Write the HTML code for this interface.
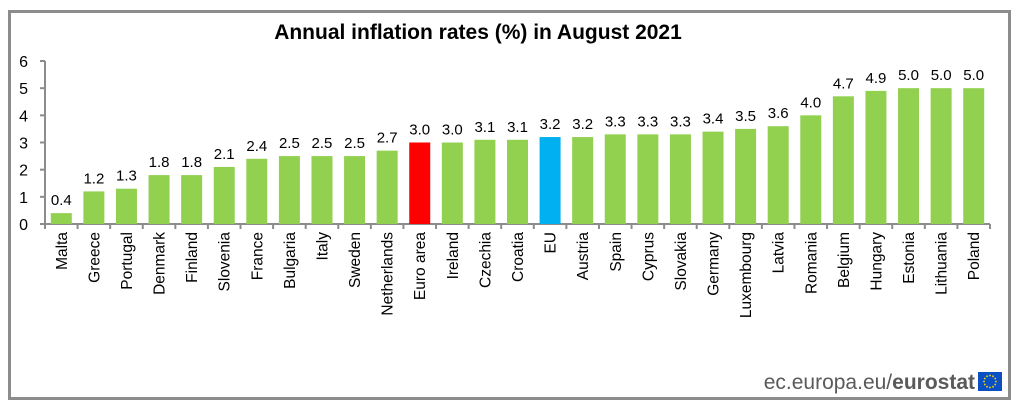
<!DOCTYPE html>
<html><head><meta charset="utf-8"><style>
body{margin:0;background:#fff;font-family:"Liberation Sans",sans-serif}
#wrap{position:relative;width:1018px;height:409px;overflow:hidden}
#frame{position:absolute;left:8px;top:10px;width:997px;height:384px;border:3px solid #8c8c8c;box-sizing:content-box}
</style></head><body>
<div id="wrap">
<div id="frame"></div>
<svg id="chart" width="1018" height="409" style="position:absolute;left:0;top:0"></svg>
</div>
<script>
const categories=["Malta","Greece","Portugal","Denmark","Finland","Slovenia","France","Bulgaria","Italy","Sweden","Netherlands","Euro area","Ireland","Czechia","Croatia","EU","Austria","Spain","Cyprus","Slovakia","Germany","Luxembourg","Latvia","Romania","Belgium","Hungary","Estonia","Lithuania","Poland"];
const values=[0.4,1.2,1.3,1.8,1.8,2.1,2.4,2.5,2.5,2.5,2.7,3.0,3.0,3.1,3.1,3.2,3.2,3.3,3.3,3.3,3.4,3.5,3.6,4.0,4.7,4.9,5.0,5.0,5.0];
const yTicks=[0,1,2,3,4,5,6];
const NS="http://www.w3.org/2000/svg";
const svg=document.getElementById('chart');
const x0=45,x1=990,yBase=224,yTop=61,yMax=6;
const step=(x1-x0)/categories.length;
const y=v=>yBase-(v/yMax)*(yBase-yTop);
const xc=i=>x0+step*(i+0.5);
function mk(t,a){const e=document.createElementNS(NS,t);for(const k in a)e.setAttribute(k,a[k]);svg.appendChild(e);return e;}
const title=mk('text',{x:478,y:39,'text-anchor':'middle','font-size':'21','font-weight':'bold',fill:'#000'});
title.textContent='Annual inflation rates (%)  in August 2021';


const ax=mk('line',{x1:x0,y1:yTop,x2:x0,y2:yBase,stroke:'#8c8c8c','stroke-width':2});


const bx=mk('line',{x1:x0-5,y1:yBase,x2:x1,y2:yBase,stroke:'#8c8c8c','stroke-width':2});


yTicks.forEach(t=>{
  const l=mk('line',{x1:x0-5,y1:y(t),x2:x0,y2:y(t),stroke:'#8c8c8c','stroke-width':2});
  
  
  const tx=mk('text',{x:28,y:y(t)+6,'text-anchor':'end','font-size':'16',fill:'#000'});
  tx.textContent=t;
  
  
});
for(let i=0;i<=categories.length;i++){
  const l=mk('line',{x1:x0+step*i,y1:yBase,x2:x0+step*i,y2:yBase+5,stroke:'#8c8c8c','stroke-width':2});
  
  
}
categories.forEach((c,i)=>{
  const v=values[i];
  const col=c==='Euro area'?'#ff0000':c==='EU'?'#00b0f0':'#92d050';
  const r=mk('rect',{x:xc(i)-10.5,y:y(v),width:21,height:yBase-y(v),fill:col});
  
  
  const vl=mk('text',{x:xc(i),y:y(v)-8,'text-anchor':'middle','font-size':'15',fill:'#000'});
  vl.textContent=v.toFixed(1);
  
  
  const cl=mk('text',{transform:`translate(${xc(i)+5.5},232) rotate(-90)`,'text-anchor':'end','font-size':'15.5',fill:'#000'});
  cl.textContent=c;
  
  
});
const ft=mk('text',{x:975,y:389,'text-anchor':'end','font-size':'21',fill:'#5a5a5a'});
ft.innerHTML='ec.europa.eu/<tspan font-weight="bold">eurostat</tspan>';


const fl=mk('rect',{x:978,y:372,width:24,height:19,fill:'#0a4fc4'});


for(let k=0;k<12;k++){
  const a=k*Math.PI/6;
  const s=mk('circle',{cx:990+6*Math.cos(a),cy:381.5+6*Math.sin(a),r:0.9,fill:'#ffdd00'});
  
  
}
</script>
</body></html>
